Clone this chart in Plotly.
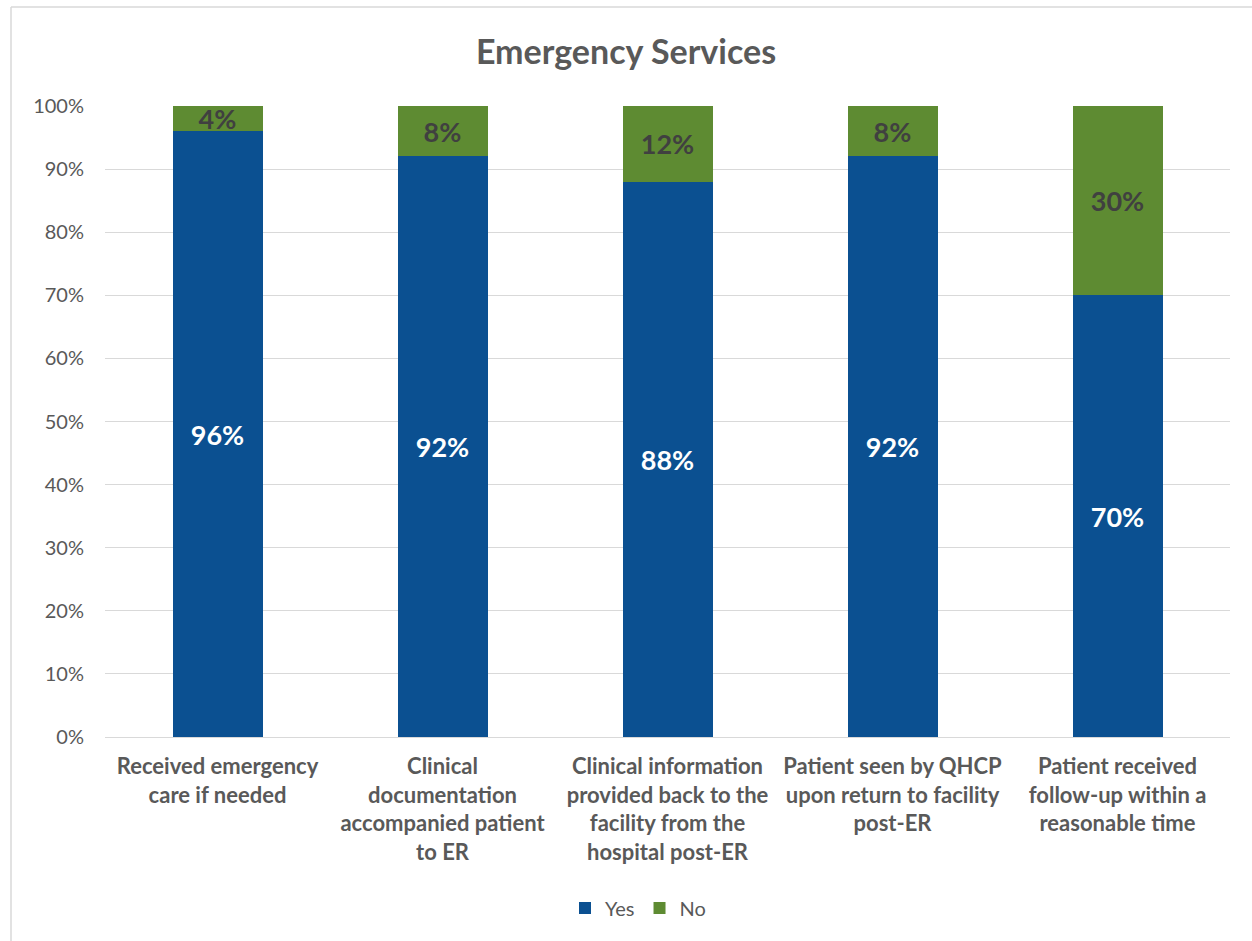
import plotly.graph_objects as go

# Survey results for emergency services (percent of cases)
categories = [
    "Received emergency<br>care if needed",
    "Clinical<br>documentation<br>accompanied patient<br>to ER",
    "Clinical information<br>provided back to the<br>facility from the<br>hospital post-ER",
    "Patient seen by QHCP<br>upon return to facility<br>post-ER",
    "Patient received<br>follow-up within a<br>reasonable time",
]
yes_values = [96, 92, 88, 92, 70]
no_values = [4, 8, 12, 8, 30]
tick_values = [0, 10, 20, 30, 40, 50, 60, 70, 80, 90, 100]
tick_labels = [f"{v}%" for v in tick_values]

BLUE = "#0B5091"
GREEN = "#5E8B32"
GRAY = "#595959"
FONT = "Lato, Carlito, Calibri, sans-serif"

fig = go.Figure()
fig.add_trace(go.Bar(
    name="Yes", x=categories, y=yes_values,
    marker=dict(color=BLUE, line=dict(width=0)),
    text=[f"{v}%" for v in yes_values],
    textposition="inside", insidetextanchor="middle", constraintext="none",
    textfont=dict(family=FONT, size=27, color="white", weight="bold"),
    hoverinfo="skip",
))
fig.add_trace(go.Bar(
    name="No", x=categories, y=no_values,
    marker=dict(color=GREEN, line=dict(width=0)),
    text=[f"{v}%" for v in no_values],
    textposition="inside", insidetextanchor="middle", constraintext="none",
    textfont=dict(family=FONT, size=27, color="#404040", weight="bold"),
    hoverinfo="skip",
))

# Plot area geometry (pixels) used for margins and border placement
W, H = 1252, 941
L, R, T, B = 105, 22, 106, 204
pw, ph = W - L - R, H - T - B
bx = (11 - L) / pw
by = 1 + (T - 7) / ph

fig.update_layout(
    width=W, height=H,
    barmode="stack", bargap=0.6,
    margin=dict(l=L, r=R, t=T, b=B),
    paper_bgcolor="white", plot_bgcolor="white",
    font=dict(family=FONT, color=GRAY),
    title=dict(text="<b>Emergency Services</b>", x=0.5, xanchor="center",
               y=1 - 52 / H, yanchor="middle",
               font=dict(family=FONT, size=34, color=GRAY)),
    showlegend=True,
    legend=dict(orientation="h", x=(638 - L) / pw, xanchor="center",
                y=(737 - 908) / ph, yanchor="middle",
                font=dict(family=FONT, size=20, color=GRAY),
                itemwidth=30, traceorder="normal"),
    xaxis=dict(showgrid=False, showline=False, ticks="", ticklabelstandoff=14,
               tickfont=dict(family=FONT, size=22, color=GRAY, weight="bold")),
    yaxis=dict(range=[0, 100], tickvals=tick_values, ticktext=tick_labels,
               showgrid=True, gridcolor="#D9D9D9", gridwidth=1,
               zeroline=True, zerolinecolor="#D9D9D9", zerolinewidth=1,
               showline=False, ticks="", ticklen=0, ticklabelstandoff=20,
               tickfont=dict(family=FONT, size=20, color=GRAY)),
    shapes=[
        dict(type="line", xref="paper", yref="paper", x0=bx, x1=bx, y0=-1, y1=by,
             line=dict(color="#D9D9D9", width=1.5), layer="below"),
        dict(type="line", xref="paper", yref="paper", x0=bx, x1=1.2, y0=by, y1=by,
             line=dict(color="#D9D9D9", width=1.5), layer="below"),
    ],
)

fig.write_html("out.html")
